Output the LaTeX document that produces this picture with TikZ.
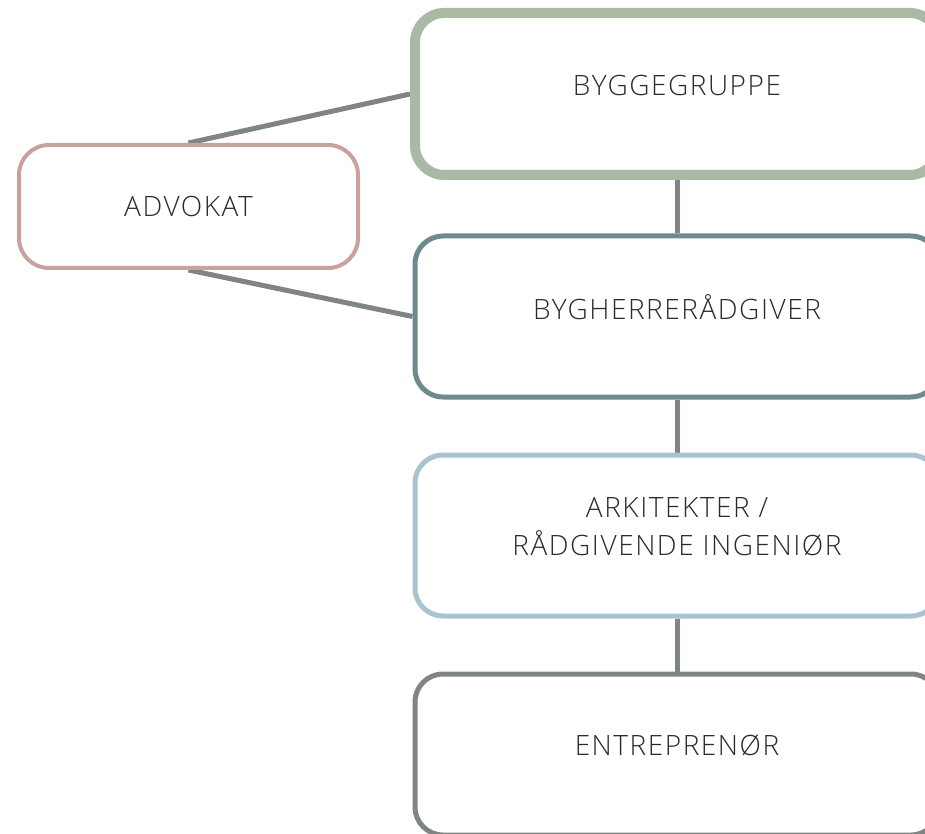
\documentclass[tikz,border=0pt]{standalone}
\usepackage{fontspec}
\setmainfont{Open Sans Light}[LetterSpace=5.5]
\usetikzlibrary{backgrounds}
\definecolor{grpgreen}{HTML}{A9B9A4}
\definecolor{advpink}{HTML}{C9A19E}
\definecolor{bhteal}{HTML}{6F8A8E}
\definecolor{arkblue}{HTML}{AAC3D0}
\definecolor{entgray}{HTML}{7F8584}
\definecolor{lnkgray}{HTML}{7E8583}
\definecolor{txtdark}{HTML}{2B2B2B}

\begin{document}
\begin{tikzpicture}[x=0.75pt, y=-0.75pt,
  rolebox/.style={draw, fill=white, line width=3.75pt, rounded corners=21pt,
    minimum width=393pt, minimum height=120.75pt, inner sep=0pt},
  boxtext/.style={font=\fontsize{21}{28.5}\selectfont, text=txtdark,
    align=center, yshift=6.75pt},
  link/.style={lnkgray, line width=3.75pt},
]

% Canvas
\clip (0,0) rectangle (925,834);

% =============================================
% Chain of roles on the right
% =============================================
\node[rolebox, draw=grpgreen, line width=7.5pt, rounded corners=22pt,
  minimum height=121.5pt,
  label={[boxtext]center:BYGGEGRUPPE}] (grp) at (677,94) {};

\node[rolebox, draw=bhteal,
  label={[boxtext]center:BYGHERRERÅDGIVER}] (bhr) at (677,316.5) {};

\node[rolebox, draw=arkblue,
  label={[boxtext]center:ARKITEKTER /\\RÅDGIVENDE INGENIØR}] (ark) at (677,535.5) {};

\node[rolebox, draw=entgray,
  label={[boxtext]center:ENTREPRENØR}] (ent) at (677,754.5) {};

% Advokat on the left
\node[rolebox, draw=advpink, line width=3pt, rounded corners=22.5pt,
  minimum width=254.25pt, minimum height=92.25pt,
  label={[boxtext, yshift=-6.75pt]center:ADVOKAT}] (adv) at (188.5,206.5) {};

% =============================================
% Connectors
% =============================================
\begin{scope}[on background layer]
  \draw[link] (grp.south) -- (bhr.north);
  \draw[link] (bhr.south) -- (ark.north);
  \draw[link] (ark.south) -- (ent.north);
  \draw[link] (adv.north) -- (grp.west);
  \draw[link] (adv.south) -- (bhr.west);
\end{scope}

\end{tikzpicture}
\end{document}
